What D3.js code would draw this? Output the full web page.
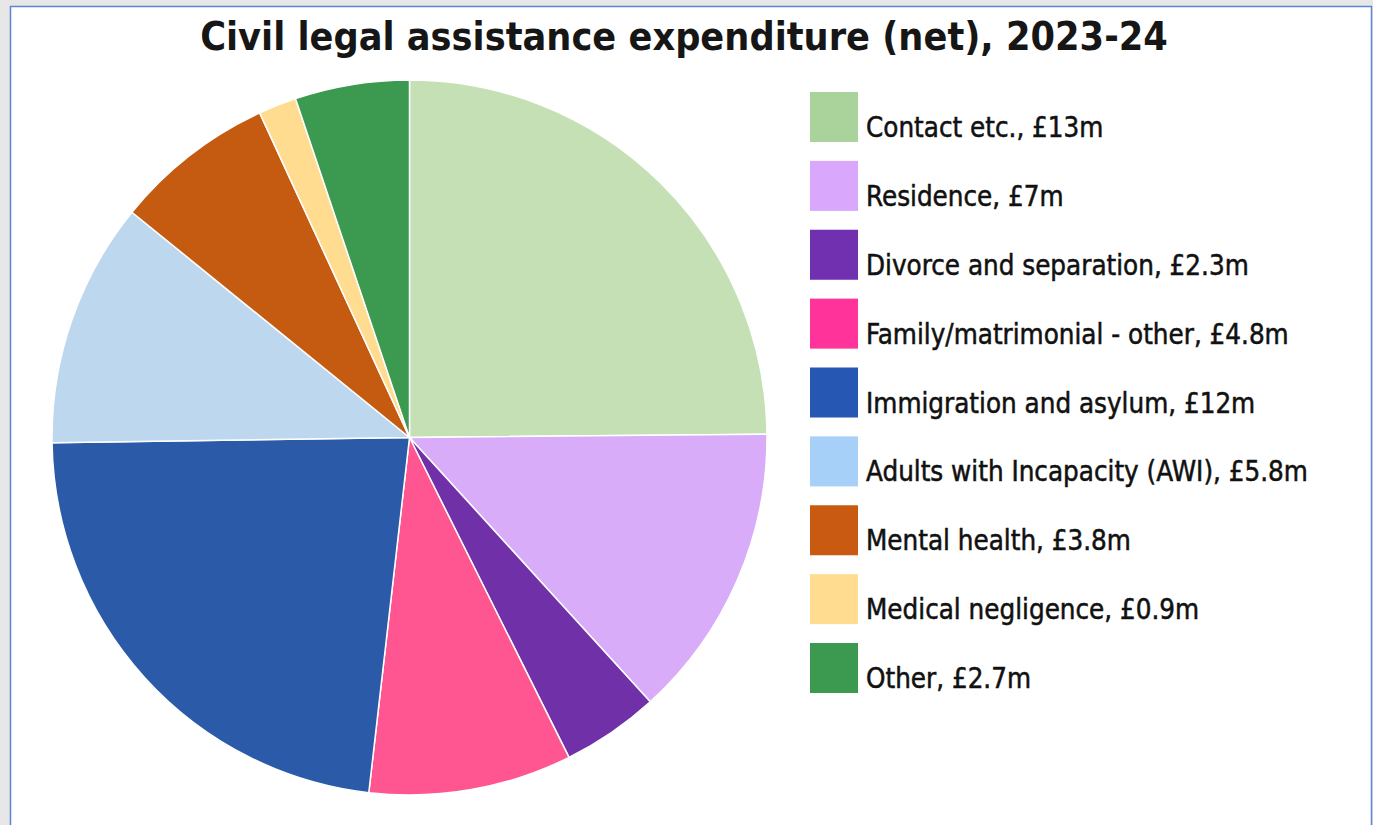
<!DOCTYPE html>
<html>
<head>
<meta charset="utf-8">
<script src="https://cdn.jsdelivr.net/npm/d3@7"></script>
<style>
  html, body { margin: 0; padding: 0; background: #e7e7e7; }
  svg { display: block; }
</style>
</head>
<body>
<svg id="chart" width="1373" height="825"></svg>
<script>
// Civil legal assistance expenditure (net), 2023-24, £ millions
const categories = [
  "Contact etc.",
  "Residence",
  "Divorce and separation",
  "Family/matrimonial - other",
  "Immigration and asylum",
  "Adults with Incapacity (AWI)",
  "Mental health",
  "Medical negligence",
  "Other"
];
const values = [13, 7, 2.3, 4.8, 12, 5.8, 3.8, 0.9, 2.7];
const valueLabels = ["£13m", "£7m", "£2.3m", "£4.8m", "£12m", "£5.8m", "£3.8m", "£0.9m", "£2.7m"];
const sliceColors = ["#c5e0b4", "#d8acf8", "#7030a8", "#ff5590", "#2a5aa8", "#bdd7ee", "#c55a11", "#ffdc90", "#3c9a50"];
const swatchColors = ["#a9d39a", "#d9a8fc", "#7030b0", "#ff3399", "#2557b3", "#a6d0f8", "#c85a12", "#ffdc90", "#3c9a50"];
const title = "Civil legal assistance expenditure (net), 2023-24";

const svg = d3.select("#chart");

// white panel with thin blue frame
svg.append("rect")
  .attr("x", 10.5).attr("y", 6.5)
  .attr("width", 1361).attr("height", 830)
  .attr("fill", "#ffffff")
  .attr("stroke", "#5b86d6").attr("stroke-width", 1.5);

const font = "'DejaVu Sans Condensed', 'DejaVu Sans', sans-serif";

// title, sized to its measured width
const titleText = svg.append("text")
  .attr("x", 684).attr("y", 50)
  .attr("text-anchor", "middle")
  .attr("font-family", font)
  .attr("font-weight", "bold")
  .attr("font-size", 40)
  .attr("fill", "#161616")
  .text(title);
{
  const w = titleText.node().getComputedTextLength();
  titleText.attr("font-size", 40 * 968 / w);
}

// pie
const cx = 409.5, cy = 437.5, r = 357.5;
const data = categories.map((c, i) => ({ name: c, value: values[i], i }));
const pie = d3.pie().value(d => d.value).sort(null);
const arc = d3.arc().innerRadius(0).outerRadius(r);

svg.append("g")
  .attr("transform", `translate(${cx},${cy})`)
  .selectAll("path")
  .data(pie(data))
  .join("path")
  .attr("d", arc)
  .attr("fill", d => sliceColors[d.data.i])
  .attr("stroke", "#ffffff")
  .attr("stroke-width", 1.5)
  .attr("stroke-linejoin", "round");

// legend
const rowY = d3.scaleLinear().domain([0, categories.length - 1]).range([92, 643]);
const legend = svg.append("g");
const rows = legend.selectAll("g")
  .data(data)
  .join("g")
  .attr("transform", d => `translate(810,${rowY(d.i)})`);

rows.append("rect")
  .attr("width", 48).attr("height", 50)
  .attr("fill", d => swatchColors[d.i]);

const labels = rows.append("text")
  .attr("x", 56).attr("y", 45)
  .attr("font-family", font)
  .attr("font-size", 26)
  .attr("fill", "#111111")
  .attr("stroke", "#111111")
  .attr("stroke-width", 0.5)
  .text(d => `${d.name}, ${valueLabels[d.i]}`);

// fit legend font to the longest label width
{
  const longest = d3.max(labels.nodes(), n => n.getComputedTextLength());
  labels.attr("font-size", 26 * 442 / longest);
}
</script>
</body>
</html>
